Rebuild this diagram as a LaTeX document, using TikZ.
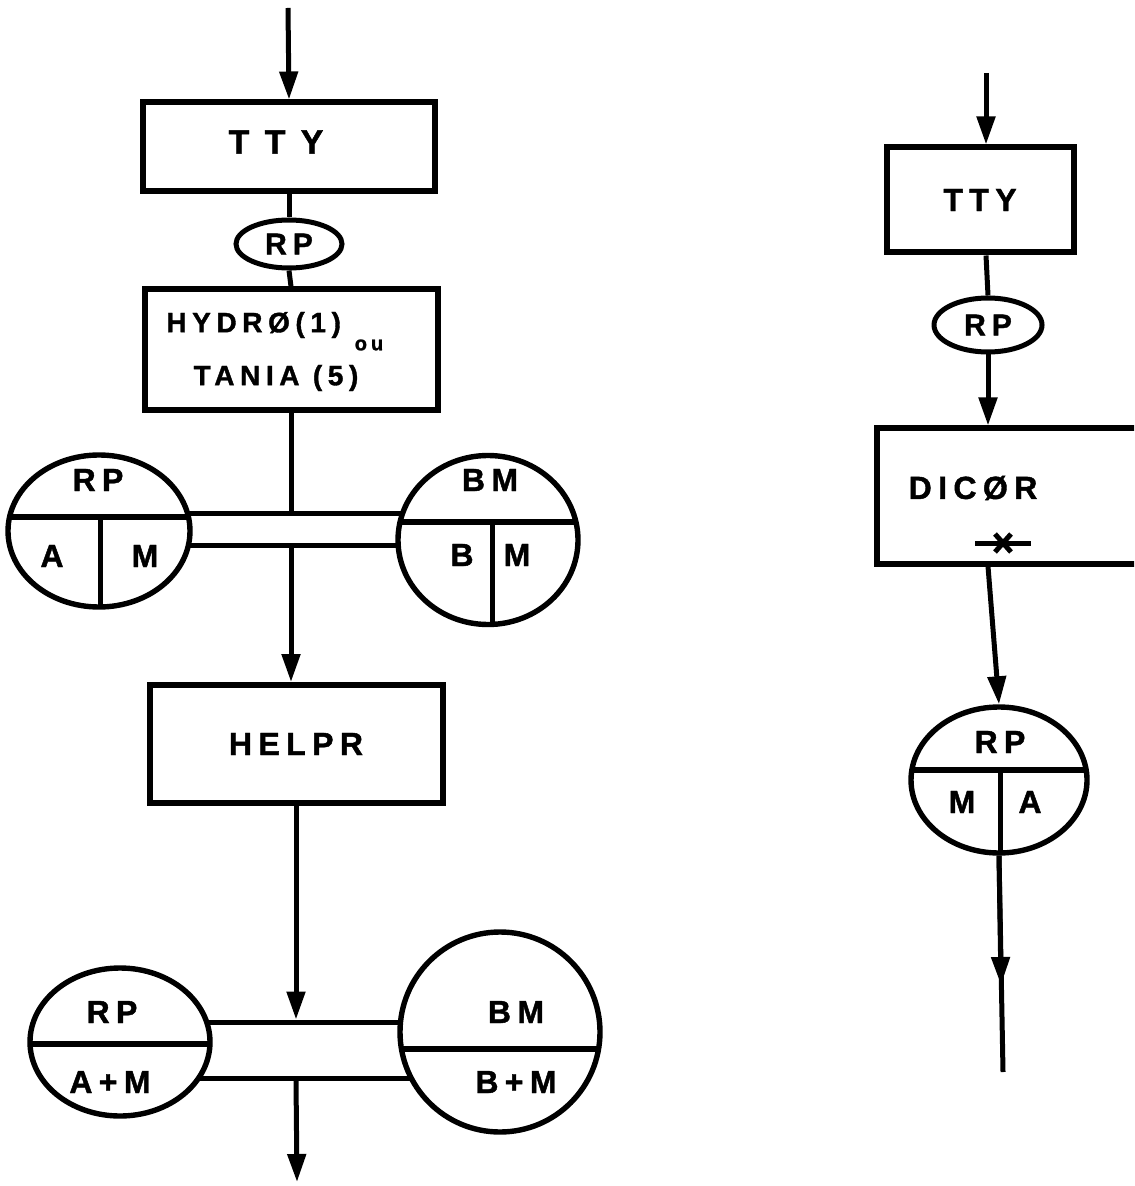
\documentclass[tikz,border=0pt]{standalone}
\usepackage{fontspec}
\newfontfamily\hand[LetterSpace=20,BoldFeatures={FakeBold=1.3}]{Liberation Sans}
\usetikzlibrary{shapes.geometric,arrows.meta,calc}
\tikzset{
  ln/.style={line width=2.5pt},
  box/.style={rectangle, draw, line width=3pt, inner sep=0pt,
              font=\hand\bfseries\fontsize{16}{18}\selectfont},
  oval/.style={ellipse, draw, line width=2.5pt, inner sep=0pt,
               font=\hand\bfseries\fontsize{15}{17}\selectfont},
  disc/.style={ellipse, draw, fill=white, line width=2.7pt, inner sep=0pt},
  bus/.style={rectangle, draw, line width=2.5pt, inner sep=0pt},
  cut/.style={path picture={
      \draw[line width=2.7pt] ([yshift=#1]path picture bounding box.west)
        -- ([yshift=#1]path picture bounding box.east);}},
  cutfour/.style 2 args={path picture={
      \draw[line width=2.7pt] ([yshift=#1]path picture bounding box.west)
        -- ([yshift=#1]path picture bounding box.east);
      \draw[line width=2.5pt] ([xshift=#2,yshift=#1]path picture bounding box.center)
        -- ([xshift=#2]path picture bounding box.south);}},
  txt/.style={font=\hand\bfseries\fontsize{16}{18}\selectfont, inner sep=0pt},
  arr/.style={-{Triangle[length=14pt,width=9pt]}, line width=2.5pt}
}

\begin{document}
\begin{tikzpicture}[x=0.5pt,y=-0.5pt]
  \clip (0,0) rectangle (1134,1186);

  % left chain
  \coordinate (inL) at (288,8);
  \node[box, minimum width=146pt, minimum height=44.5pt] (ttyL) at (289,147) {};
  \node[txt, font=\hand\bfseries\addfontfeature{LetterSpace=45}\fontsize{17}{19}\selectfont]
    at (276,142) {TTY};
  \node[oval, minimum width=53pt, minimum height=24pt] (rpL) at (289,244) {RP};
  \node[box, minimum width=146.5pt, minimum height=60.5pt] (hydro) at (291,350) {};
  \node[txt, font=\hand\bfseries\fontsize{14}{16}\selectfont, anchor=west] at (166,325) {HYDRØ(1)};
  \node[txt, font=\hand\bfseries\fontsize{10}{11}\selectfont] at (369,345) {ou};
  \node[txt, font=\hand\bfseries\fontsize{14}{16}\selectfont] at (276,378) {TANIA (5)};

  \node[bus, minimum width=122pt, minimum height=16pt] (busA) at (293,529) {};
  \node[disc, cutfour={7pt}{0.5pt}, minimum width=91pt, minimum height=76pt] (rpA) at (99,531) {};
  \node[disc, cutfour={9pt}{2pt}, minimum width=90pt, minimum height=84.5pt] (bmA) at (488,540) {};
  \node[txt] at (98,480) {RP};
  \node[txt] at (52,556) {A};
  \node[txt] at (145,556) {M};
  \node[txt] at (490,480) {BM};
  \node[txt] at (462,555) {B};
  \node[txt] at (517,555) {M};

  \node[box, minimum width=146.5pt, minimum height=59pt] (helpr) at (296,744) {HELPR};

  \node[bus, minimum width=115pt, minimum height=28pt] (busB) at (305,1050) {};
  \node[disc, cut={-1pt}, minimum width=90pt, minimum height=74pt] (rpB) at (120,1042) {};
  \node[disc, cut={-8.5pt}, minimum width=100pt, minimum height=100pt] (bmB) at (500,1032) {};
  \node[txt] at (112,1012) {RP};
  \node[txt] at (110,1082) {A+M};
  \node[txt] at (516,1012) {BM};
  \node[txt] at (516,1082) {B+M};
  \coordinate (outL) at (297,1182);

  \draw[arr] (inL) -- (ttyL.north);
  \draw[ln] (ttyL.south) -- (rpL.north);
  \draw[ln] (rpL.south) -- (hydro.north);
  \draw[ln] (hydro.south) -- (hydro.south |- busA.north);
  \draw[arr] (hydro.south |- busA.south) -- (hydro.south |- helpr.north);
  \draw[arr] (helpr.south) -- (helpr.south |- busB.north);
  \draw[arr] (helpr.south |- busB.south) -- (outL);

  % right chain
  \coordinate (inR) at (986,73);
  \node[box, minimum width=93.5pt, minimum height=52.5pt] (ttyR) at (980,200) {TTY};
  \node[oval, minimum width=54pt, minimum height=27pt] (rpR) at (988,325) {RP};
  \node[box, minimum width=141.5pt, minimum height=67.5pt] (dicor) at (1018,496) {};
  \node[txt] at (973,488) {DICØR};
  \coordinate (stop) at (1003,543);
  \draw[ln] ($(stop)+(-28,0)$) -- ($(stop)+(28,0)$);
  \draw[ln] ($(stop)+(-8,-9)$) -- ($(stop)+(8,9)$);
  \draw[ln] ($(stop)+(8,-9)$) -- ($(stop)+(-8,9)$);

  \node[disc, cutfour={5pt}{0.5pt}, minimum width=88pt, minimum height=73pt] (rpC) at (999,780) {};
  \node[txt] at (1000,742) {RP};
  \node[txt] at (962,802) {M};
  \node[txt] at (1030,802) {A};
  \coordinate (midR) at (1001,985);
  \coordinate (outR) at (1003,1072);

  \draw[arr] (inR) -- (inR |- ttyR.north);
  \draw[ln] (inR |- ttyR.south) -- (rpR.north);
  \draw[arr] (rpR.south) -- (rpR.south |- dicor.north);
  \draw[arr] (rpR.south |- dicor.south) -- (rpC.north);
  \draw[ln] (rpC.south) -- (outR);
  \draw[arr] (rpC.south) -- (midR);
\end{tikzpicture}
\end{document}
